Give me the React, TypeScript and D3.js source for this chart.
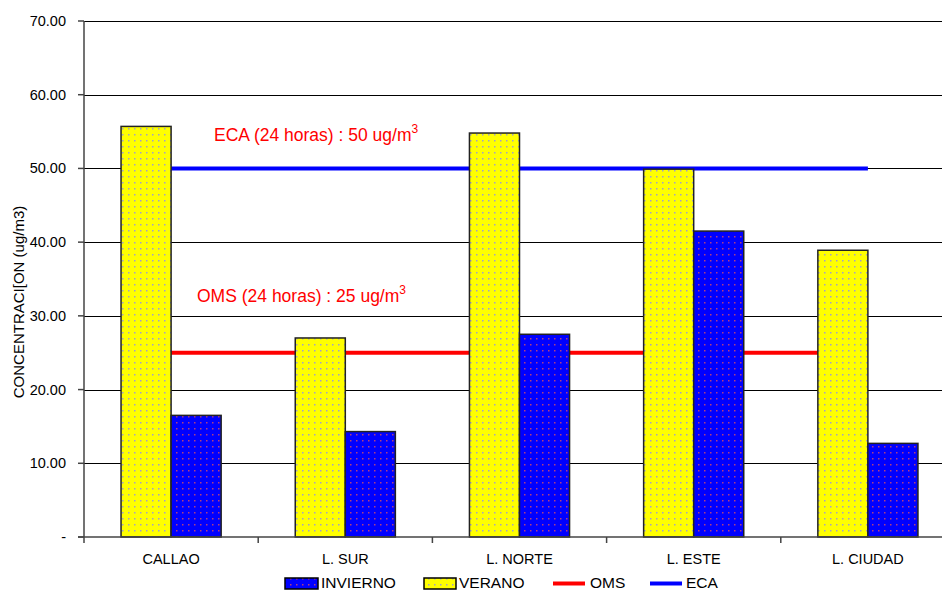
import React from 'react';
import * as d3 from 'd3';

const categories = ['CALLAO', 'L. SUR', 'L. NORTE', 'L. ESTE', 'L. CIUDAD'];
const verano = [55.7, 27.0, 54.8, 49.9, 38.9];
const invierno = [16.5, 14.3, 27.5, 41.5, 12.7];
const oms = [25, 25, 25, 25, 25];
const eca = [50, 50, 50, 50, 50];
const yTicks = [0, 10, 20, 30, 40, 50, 60, 70];

const W = 942;
const H = 590;
const left = 84;
const right = 955;
const top = 21;
const bottom = 537;
const font = 'Arial, "Liberation Sans", sans-serif';

export default function App() {
  const x = d3.scaleBand<string>().domain(categories).range([left, right]);
  const inner = d3
    .scaleBand<string>()
    .domain(['verano', 'invierno'])
    .range([0, x.bandwidth()])
    .paddingOuter(0.74)
    .paddingInner(0);
  const y = d3.scaleLinear().domain([0, 70]).range([bottom, top]);
  const cx = (c: string) => (x(c) as number) + x.bandwidth() / 2;

  const line = d3
    .line<number>()
    .x((_, i) => cx(categories[i]))
    .y((d) => y(d));

  const bars = [
    { key: 'verano', vals: verano, fill: 'url(#patY)' },
    { key: 'invierno', vals: invierno, fill: 'url(#patB)' },
  ];

  return (
    <svg
      width={W}
      height={H}
      style={{ position: 'absolute', left: 0, top: 0, fontFamily: font }}
    >
      <defs>
        <pattern id="patY" width={6} height={6} patternUnits="userSpaceOnUse">
          <rect width={6} height={6} fill="#ffff00" />
          <rect x={2} y={2} width={1.5} height={1.5} fill="#a0a0c8" />
        </pattern>
        <pattern id="patB" width={6} height={6} patternUnits="userSpaceOnUse">
          <rect width={6} height={6} fill="#0000ff" />
          <rect x={2} y={2} width={1.5} height={1.5} fill="#b04080" />
        </pattern>
      </defs>
      <rect width={W} height={H} fill="#fff" />

      {/* gridlines */}
      {yTicks.slice(1).map((t) => (
        <line
          key={t}
          x1={left}
          x2={right}
          y1={Math.round(y(t)) + 0.5}
          y2={Math.round(y(t)) + 0.5}
          stroke="#000"
          strokeWidth={1}
        />
      ))}

      {/* lines */}
      <path d={line(oms) || ''} stroke="#ff0000" strokeWidth={4} fill="none" />
      <path d={line(eca) || ''} stroke="#0000ff" strokeWidth={4} fill="none" />

      {/* bars */}
      {bars.map((s) =>
        categories.map((c, i) => {
          const bx = (x(c) as number) + (inner(s.key) as number);
          return (
            <rect
              key={s.key + c}
              x={bx}
              y={y(s.vals[i])}
              width={inner.bandwidth()}
              height={y(0) - y(s.vals[i])}
              fill={s.fill}
              stroke="#222"
              strokeWidth={1.5}
            />
          );
        })
      )}

      {/* axes */}
      <line x1={left} x2={left} y1={top} y2={bottom} stroke="#444" strokeWidth={1.5} />
      <line x1={left - 6} x2={right} y1={bottom} y2={bottom} stroke="#444" strokeWidth={1.5} />
      {yTicks.map((t) => (
        <g key={t}>
          <line x1={left - 6} x2={left} y1={y(t)} y2={y(t)} stroke="#444" strokeWidth={1.5} />
          <text x={66} y={y(t) + 5} textAnchor="end" fontSize={14.5} fill="#000">
            {t === 0 ? '-' : t.toFixed(2)}
          </text>
        </g>
      ))}
      {categories.map((c) => (
        <g key={c}>
          <line
            x1={x(c) as number}
            x2={x(c) as number}
            y1={bottom}
            y2={bottom + 6}
            stroke="#444"
            strokeWidth={1.5}
          />
          <text x={cx(c)} y={564} textAnchor="middle" fontSize={14.5} fill="#000">
            {c}
          </text>
        </g>
      ))}
      <text
        transform={`translate(24,302) rotate(-90)`}
        textAnchor="middle"
        fontSize={15}
        fill="#000"
      >
        CONCENTRACI[ON (ug/m3)
      </text>

      {/* annotations */}
      <text x={214} y={141} fontSize={17.5} fill="#ff0000">
        ECA (24 horas) : 50 ug/m<tspan dy={-8} fontSize={12}>3</tspan>
      </text>
      <text x={197} y={302} fontSize={17.5} fill="#ff0000">
        OMS (24 horas) : 25 ug/m<tspan dy={-8} fontSize={12}>3</tspan>
      </text>

      {/* legend */}
      <g fontSize={15.5} fill="#000">
        <rect x={285} y={578} width={33} height={11} fill="url(#patB)" stroke="#000" strokeWidth={1.5} />
        <text x={321} y={588}>INVIERNO</text>
        <rect x={424} y={578} width={32} height={11} fill="url(#patY)" stroke="#000" strokeWidth={1.5} />
        <text x={459} y={588}>VERANO</text>
        <line x1={553} x2={585} y1={583.5} y2={583.5} stroke="#ff0000" strokeWidth={4} />
        <text x={590} y={588}>OMS</text>
        <line x1={650} x2={682} y1={583.5} y2={583.5} stroke="#0000ff" strokeWidth={4} />
        <text x={686} y={588}>ECA</text>
      </g>
    </svg>
  );
}
